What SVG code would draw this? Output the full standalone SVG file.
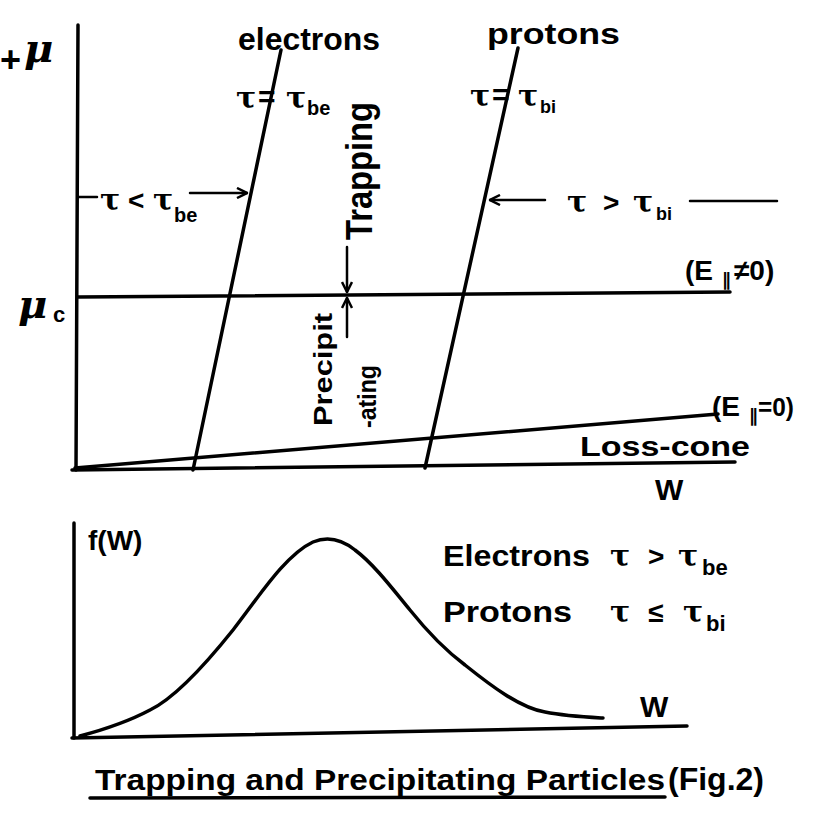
<svg xmlns="http://www.w3.org/2000/svg" width="823" height="833" viewBox="0 0 823 833">
<defs>
<marker id="arr" viewBox="0 0 12 12" refX="11" refY="6" markerWidth="12" markerHeight="12" markerUnits="userSpaceOnUse" orient="auto">
<polyline points="1,1 11,6 1,11" fill="none" stroke="#000" stroke-width="2.5"/>
</marker>
</defs>
<style>
.ln{stroke:#000;stroke-width:3.5;fill:none;stroke-linecap:round}
.th{stroke:#000;stroke-width:2.5;fill:none;stroke-linecap:round}
text{font-family:"Liberation Sans","DejaVu Sans",sans-serif;font-weight:bold;fill:#000}
.g{font-family:"DejaVu Serif","Liberation Serif",serif}
</style>
<rect width="823" height="833" fill="#fff"/>

<g id="top-axes">
<line class="ln" x1="78" y1="25" x2="76" y2="470"/>
<line class="ln" x1="72" y1="470" x2="735" y2="462"/>
</g>

<g id="connectors">
<line class="ln" x1="78" y1="297" x2="730" y2="292"/>
<line class="ln" x1="75" y1="468" x2="718" y2="414"/>
<line class="ln" x1="193" y1="470" x2="281" y2="50"/>
<line class="ln" x1="425" y1="468" x2="518" y2="48"/>
<line class="th" x1="78" y1="197" x2="97" y2="197"/>
<line class="th" x1="190" y1="193" x2="247" y2="193" marker-end="url(#arr)"/>
<line class="th" x1="545" y1="200" x2="490" y2="200" marker-end="url(#arr)"/>
<line class="th" x1="690" y1="201" x2="777" y2="201"/>
<line class="th" x1="347" y1="247" x2="347" y2="292" marker-end="url(#arr)"/>
<line class="th" x1="347" y1="337" x2="347" y2="298" marker-end="url(#arr)"/>
</g>

<g id="top-labels">
<text x="0" y="72" font-size="36">+</text>
<text x="24" y="62" font-size="40" class="g" font-style="italic">μ</text>
<text x="18" y="318" font-size="40" class="g" font-style="italic">μ</text>
<text x="53" y="322" font-size="22">c</text>
<text x="238" y="50" font-size="32" textLength="142" lengthAdjust="spacingAndGlyphs">electrons</text>
<text x="487" y="44" font-size="30" textLength="133" lengthAdjust="spacingAndGlyphs">protons</text>
<text x="236" y="108" font-size="30" class="g">τ</text>
<text x="258" y="107" font-size="30">=</text>
<text x="286" y="108" font-size="30" class="g">τ</text>
<text x="307" y="115" font-size="20">be</text>
<text x="470" y="106" font-size="30" class="g">τ</text>
<text x="492" y="105" font-size="30">=</text>
<text x="518" y="106" font-size="30" class="g">τ</text>
<text x="540" y="113" font-size="18">bi</text>
<text x="100" y="210" font-size="30" class="g">τ</text>
<text x="128" y="210" font-size="28">&lt;</text>
<text x="153" y="210" font-size="30" class="g">τ</text>
<text x="174" y="222" font-size="20">be</text>
<text x="567" y="212" font-size="30" class="g">τ</text>
<text x="603" y="212" font-size="28">&gt;</text>
<text x="633" y="212" font-size="30" class="g">τ</text>
<text x="656" y="220" font-size="18">bi</text>
<text x="685" y="280" font-size="28">(E</text>
<text x="722" y="286" font-size="18">∥</text>
<text x="734" y="280" font-size="28">≠0)</text>
<text x="712" y="416" font-size="28">(E</text>
<text x="749" y="422" font-size="18">∥</text>
<text x="758" y="416" font-size="26" textLength="36" lengthAdjust="spacingAndGlyphs">=0)</text>
<text x="580" y="456" font-size="28" textLength="170" lengthAdjust="spacingAndGlyphs">Loss-cone</text>
<text x="655" y="500" font-size="30">W</text>
<text transform="translate(372,240) rotate(-90)" font-size="36" textLength="138" lengthAdjust="spacingAndGlyphs">Trapping</text>
<text transform="translate(332,426) rotate(-90)" font-size="26" textLength="113" lengthAdjust="spacingAndGlyphs">Precipit</text>
<text transform="translate(376,428) rotate(-90)" font-size="26" textLength="63" lengthAdjust="spacingAndGlyphs">-ating</text>
</g>

<g id="bottom-axes">
<line class="ln" x1="74" y1="523" x2="74" y2="738"/>
<line class="ln" x1="72" y1="738" x2="687" y2="726"/>
</g>

<g id="distribution-curve">
<path class="ln" d="M80,736 C110,728 135,718 150,710 C175,698 205,665 233,630 C258,598 285,555 313,542 C325,537 340,538 355,550 C375,565 395,592 410,610 C430,635 445,650 465,665 C490,685 520,708 545,712 C565,716 585,717 603,718"/>
</g>

<g id="bottom-labels">
<text x="88" y="550" font-size="28">f(W)</text>
<text x="443" y="566" font-size="30" textLength="147" lengthAdjust="spacingAndGlyphs">Electrons</text>
<text x="610" y="566" font-size="30" class="g">τ</text>
<text x="648" y="566" font-size="28">&gt;</text>
<text x="678" y="566" font-size="30" class="g">τ</text>
<text x="702" y="575" font-size="22">be</text>
<text x="443" y="622" font-size="30" textLength="129" lengthAdjust="spacingAndGlyphs">Protons</text>
<text x="610" y="622" font-size="30" class="g">τ</text>
<text x="648" y="622" font-size="28">≤</text>
<text x="683" y="622" font-size="30" class="g">τ</text>
<text x="706" y="631" font-size="22">bi</text>
<text x="640" y="717" font-size="30">W</text>
</g>

<g id="title">
<text x="95" y="790" font-size="30" textLength="570" lengthAdjust="spacingAndGlyphs">Trapping and Precipitating Particles</text>
<line class="ln" x1="90" y1="798" x2="665" y2="797"/>
<text x="668" y="790" font-size="32">(Fig.2)</text>
</g>
</svg>
